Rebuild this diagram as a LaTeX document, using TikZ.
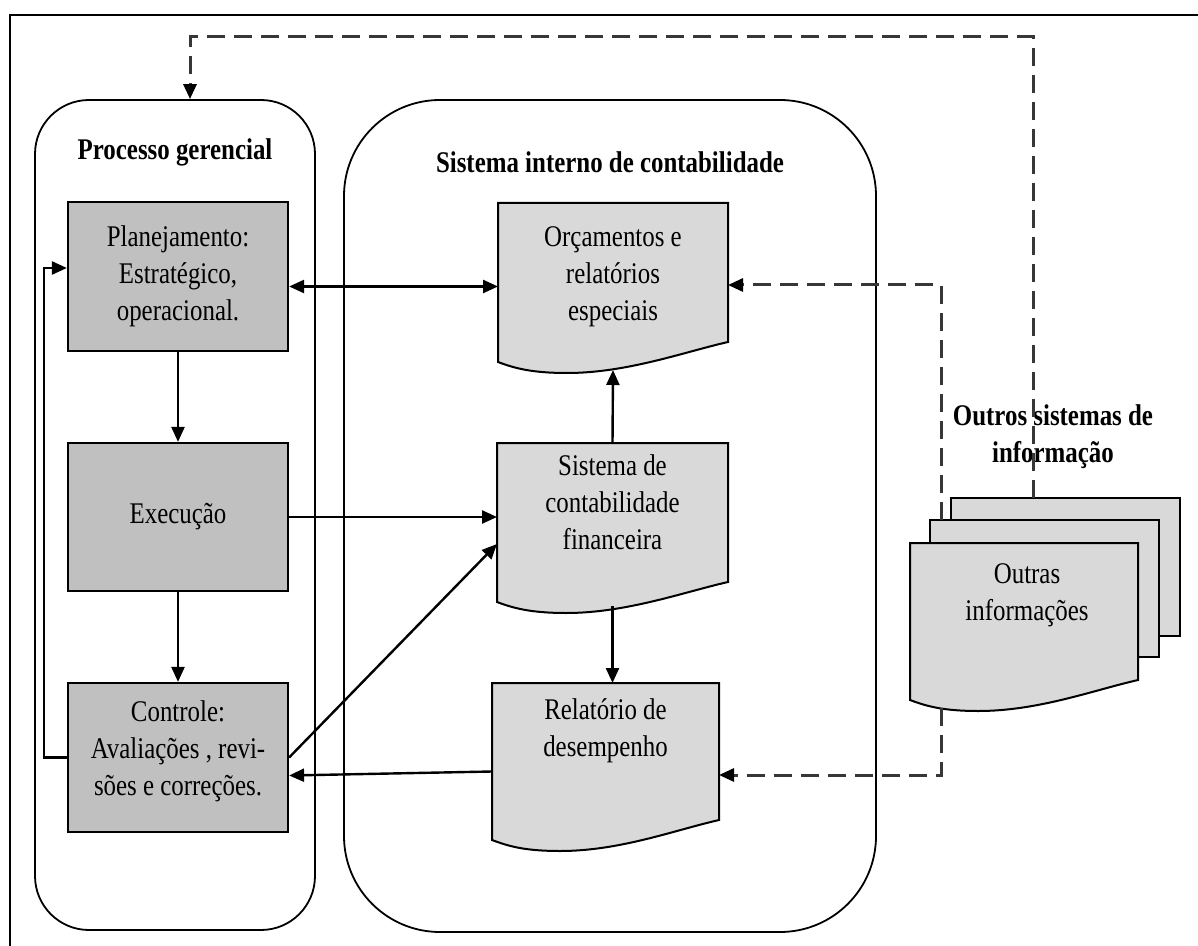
\documentclass[tikz,border=0pt]{standalone}
\usepackage{fontspec}
\setmainfont{Liberation Serif}[FakeStretch=0.83]
\usetikzlibrary{arrows.meta,calc,backgrounds}
\definecolor{procgray}{RGB}{192,192,192}
\definecolor{docgray}{RGB}{217,217,217}
\definecolor{dashgray}{RGB}{55,55,55}
\tikzset{
  txt/.style={align=center, inner sep=0pt, font=\fontsize{15}{18.5}\selectfont},
  ttl/.style={align=center, inner sep=0pt, font=\bfseries\fontsize{15}{18.5}\selectfont},
  proc/.style={draw, fill=procgray, line width=1.1pt, minimum width=110pt, minimum height=74.5pt, align=center, font=\fontsize{15}{18.5}\selectfont},
  docarea/.style={inner sep=0pt, outer sep=0pt},
  docline/.style={draw, fill=docgray, line width=1pt},
  container/.style={draw, line width=0.9pt, inner sep=0pt},
  arr/.style={-{Triangle[length=7.5pt,width=6.5pt]}, line width=1.2pt},
  darr/.style={-{Triangle[length=7.5pt,width=6.5pt,color=black]}, draw=dashgray, line width=1.5pt, dash pattern=on 9pt off 4.5pt}
}
\newcommand\docwave[1]{%
  \draw[docline] (#1.south east) -- (#1.north east) -- (#1.north west) -- ([yshift=-10pt]#1.south west)
   .. controls +(8pt,-3pt) and +(-18pt,0pt) .. ($(#1.south west)!0.3!(#1.south east)+(0,31)$)
   .. controls +(30pt,0pt) and +(-22pt,-5pt) .. (#1.south east) -- cycle;}
\begin{document}
\begin{tikzpicture}[x=0.5pt,y=-0.5pt]
\useasboundingbox (0,0) rectangle (1198,946);
% outer frame (partially visible)
\draw[line width=1.1pt] (10,946) -- (10,15) -- (1198,15);

% containers
\node[container, minimum width=140pt, minimum height=415pt, rounded corners=27pt] (pg) at (175,515) {};
\node[container, minimum width=266pt, minimum height=416pt, rounded corners=48pt] (sc) at (610,516) {};
\node[ttl] (pgt) at (175,152) {Processo gerencial};
\node[ttl] (sct) at (610,162) {Sistema interno de contabilidade};

% process boxes
\node[proc] (plan) at (178,276.5) {Planejamento:\\Estratégico,\\operacional.};
\node[proc, minimum height=74pt] (exec) at (178,517) {Execução};
\node[proc] (ctrl) at (178,757.5) {};
\node[txt] (ctrlt) at (178,751) {Controle:\\Avaliações , revi-\\sões e correções.};

% document areas
\node[docarea, minimum width=115pt, minimum height=69.5pt] (orc) at (613,272.5) {};
\node[docarea, minimum width=115.5pt, minimum height=69.5pt] (sis) at (612.5,512.5) {};
\node[docarea, minimum width=113.5pt, minimum height=68.5pt] (rel) at (605.5,751.5) {};
\node[docarea, minimum width=114.5pt, minimum height=69pt] (ob) at (1065.5,567) {};
\node[docarea, minimum width=114.5pt, minimum height=68.5pt] (om) at (1044.5,588.5) {};
\node[docarea, minimum width=114pt, minimum height=68.5pt] (of) at (1024,611.5) {};

\begin{scope}[on background layer]
  \draw[docline] (ob.south west) rectangle (ob.north east);
  \draw[docline] (om.south west) rectangle (om.north east);
  \docwave{orc}
  \docwave{sis}
  \docwave{rel}
  \docwave{of}
\end{scope}

\node[txt] (orct) at (613,277) {Orçamentos e\\relatórios\\especiais};
\node[txt] (sist) at (612.5,502) {Sistema de\\contabilidade\\financeira};
\node[txt] (relt) at (605.5,731) {Relatório de\\desempenho};
\node[txt] (oft) at (1027,595) {Outras\\informações};
\node[ttl] (ost) at (1053,437) {Outros sistemas de\\informação};

% solid connectors
\draw[arr] (plan.south) -- (exec.north);
\draw[arr] (exec.south) -- (ctrl.north);
\coordinate (fb) at (44,268);
\draw[arr] (ctrl.west) -| (fb) -- (fb -| plan.west);
\draw[arr, {Triangle[length=7.5pt,width=6.5pt]}-{Triangle[length=7.5pt,width=6.5pt]}] ([yshift=-5pt]plan.east) -- ([yshift=-5pt]plan.east -| orc.west);
\draw[arr] (exec.east) -- (exec.east -| sis.west);
\draw[arr] (ctrl.east) -- ([yshift=-15.75pt]sis.west);
\draw[arr] ([yshift=-10pt]rel.west) -- ([yshift=-9pt]ctrl.east);
\draw[arr] (sis.north) -- ([yshift=-14pt]orc.south);
\draw[arr] ([yshift=-12pt]sis.south) -- (sis.south |- rel.north);

% dashed connectors
\coordinate (topc) at (190,37);
\draw[darr] ([xshift=41pt]ob.north west) |- (topc) -- (topc |- pg.north);
\draw[darr] ([xshift=5.5pt]om.north west) |- ([yshift=-6.25pt]orc.east);
\draw[darr] ([shift={(15.5pt,-14pt)}]of.south west) |- ([yshift=-11.75pt]rel.east);
\end{tikzpicture}
\end{document}
